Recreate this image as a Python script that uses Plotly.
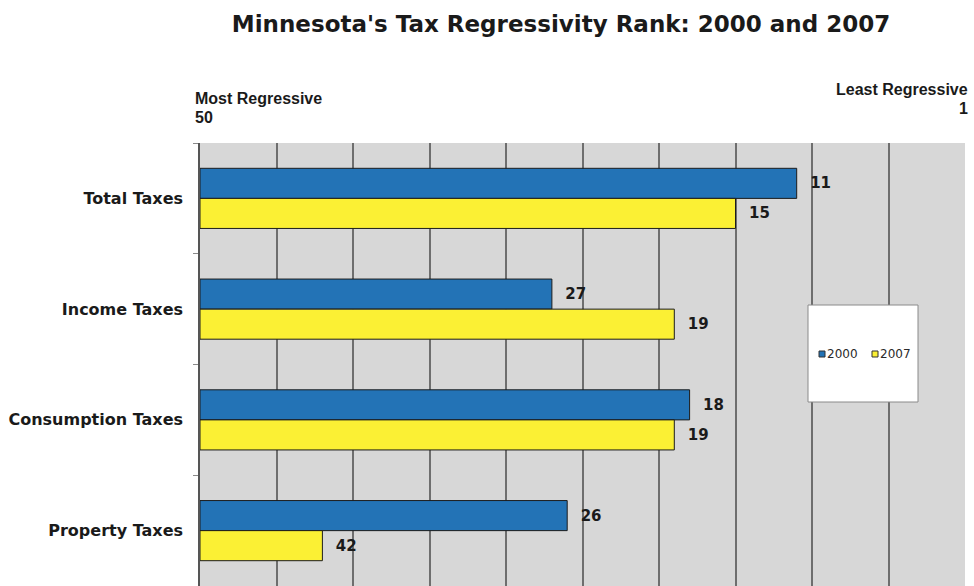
import plotly.graph_objects as go

# Tax categories, top to bottom
categories = ["Total Taxes", "Income Taxes", "Consumption Taxes", "Property Taxes"]

# State regressivity ranks (1 = least regressive, 50 = most regressive)
rank_2000 = [11, 27, 18, 26]
rank_2007 = [15, 19, 19, 42]
years = ["2000", "2007"]
num_states = 50

# Bars grow toward the least regressive end: length = 50 - rank
len_2000 = [num_states - r for r in rank_2000]
len_2007 = [num_states - r for r in rank_2007]

blue = "#2373b6"
yellow = "#fbf034"
colors = [blue, yellow]
label_pad = "\u00a0" * 2

W, H = 974, 586
L, R, T, B = 200, 9, 143, 0
PW, PH = W - L - R, H - T - B


def px(x):
    return (x - L) / PW


def py(y):
    return (H - B - y) / PH


fig = go.Figure()
for name, lengths, ranks, color in [
    (years[0], len_2000, rank_2000, colors[0]),
    (years[1], len_2007, rank_2007, colors[1]),
]:
    fig.add_trace(go.Bar(
        name=name,
        y=categories,
        x=lengths,
        orientation="h",
        marker=dict(color=color, line=dict(color="#1c1c1c", width=1)),
        text=["<b>" + label_pad + str(r) + "</b>" for r in ranks],
        textposition="outside",
        textfont=dict(family="DejaVu Sans", size=15, color="#1a1a1a"),
        cliponaxis=False,
        showlegend=False,
    ))

# Legend box drawn over the grid, with small square keys
fig.add_shape(type="rect", xref="paper", yref="paper",
              x0=px(808), x1=px(918), y0=py(402), y1=py(305),
              fillcolor="white", line=dict(color="#8a8a8a", width=1),
              layer="above")
for i, (yr, col) in enumerate(zip(years, colors)):
    x0 = 819 + i * 53
    fig.add_shape(type="rect", xref="paper", yref="paper",
                  x0=px(x0), x1=px(x0 + 6), y0=py(357), y1=py(351),
                  fillcolor=col, line=dict(color="#333333", width=1),
                  layer="above")
    fig.add_annotation(text=yr, xref="paper", yref="paper",
                       x=px(x0 + 6), y=py(354), xanchor="left", yanchor="middle",
                       showarrow=False,
                       font=dict(family="DejaVu Sans", size=12, color="#2a2a2a"))

fig.update_layout(
    width=W, height=H,
    margin=dict(l=L, r=R, t=T, b=B),
    paper_bgcolor="white",
    plot_bgcolor="#d7d7d7",
    barmode="group",
    bargap=0.457,
    bargroupgap=0,
    title=dict(
        text="<b>Minnesota's Tax Regressivity Rank: 2000 and 2007</b>",
        x=561 / W, xanchor="center",
        y=1 - 24 / H, yanchor="middle",
        font=dict(family="DejaVu Sans", size=23, color="#1a1a1a"),
    ),
    showlegend=False,
    xaxis=dict(
        range=[0, num_states],
        dtick=5,
        showticklabels=False,
        showgrid=True,
        gridcolor="#6e6e6e",
        gridwidth=1.5,
        zeroline=False,
        showline=False,
        fixedrange=True,
    ),
    yaxis=dict(
        autorange="reversed",
        tickson="boundaries",
        ticks="outside",
        ticklen=5,
        tickcolor="#8a8a8a",
        ticklabelstandoff=12,
        showline=True,
        linecolor="#555555",
        linewidth=1.5,
        showgrid=False,
        tickvals=categories,
        ticktext=["<b>" + c + "</b>" for c in categories],
        tickfont=dict(family="DejaVu Sans", size=16, color="#1a1a1a"),
    ),
)

# Axis-end captions
cap_font = dict(family="Liberation Sans", size=16, color="#1a1a1a")
fig.add_annotation(text="<b>Most Regressive</b>", xref="paper", yref="paper",
                   x=0, xshift=-7, y=py(99), xanchor="left", yanchor="middle",
                   showarrow=False, font=cap_font)
fig.add_annotation(text="<b>" + str(num_states) + "</b>", xref="paper", yref="paper",
                   x=0, xshift=-7, y=py(118), xanchor="left", yanchor="middle",
                   showarrow=False, font=cap_font)
fig.add_annotation(text="<b>Least Regressive</b>", xref="paper", yref="paper",
                   x=1, xshift=5, y=py(89), xanchor="right", yanchor="middle",
                   showarrow=False, font=cap_font)
fig.add_annotation(text="<b>1</b>", xref="paper", yref="paper",
                   x=1, xshift=5, y=py(108), xanchor="right", yanchor="middle",
                   showarrow=False, font=cap_font)

fig.write_html("out.html")
